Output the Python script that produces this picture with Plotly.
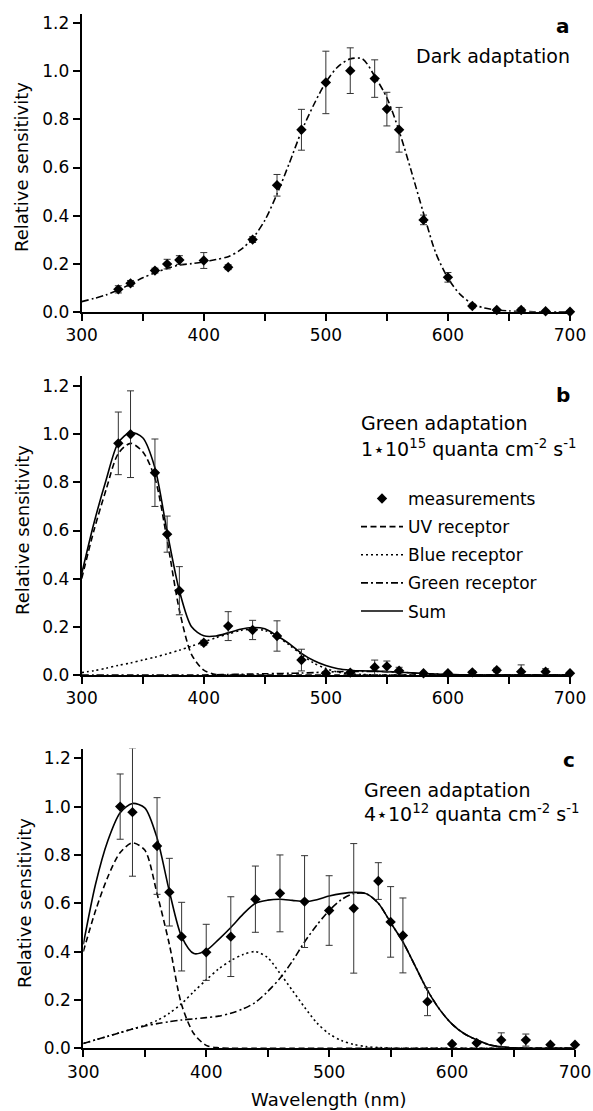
import plotly.graph_objects as go

# ---------------- data ----------------
# wavelength grid for fitted curves (nm)
wl = [300, 310, 320, 330, 340, 350, 360, 370, 380, 390, 400, 410, 420, 430, 440, 450,
      460, 470, 480, 490, 500, 510, 520, 530, 540, 550, 560, 570, 580, 590, 600, 610,
      620, 630, 640, 650, 660, 670, 680, 690, 700]

# panel a: dark adaptation
a_x = [330, 340, 360, 370, 380, 400, 420, 440, 460, 480, 500, 520, 540, 550, 560, 580,
       600, 620, 640, 660, 680, 700]
a_y = [0.093, 0.118, 0.171, 0.198, 0.215, 0.213, 0.185, 0.300, 0.526, 0.757, 0.954,
       1.003, 0.970, 0.843, 0.757, 0.382, 0.143, 0.024, 0.007, 0.007, 0.002, 0.000]
a_err = [0.015, 0.012, 0.010, 0.020, 0.018, 0.033, 0.010, 0.012, 0.045, 0.085, 0.130,
         0.095, 0.078, 0.070, 0.093, 0.020, 0.020, 0.008, 0.005, 0.008, 0.004, 0.003]
a_fit = [0.042, 0.055, 0.070, 0.090, 0.115, 0.141, 0.162, 0.180, 0.194, 0.200, 0.207,
         0.217, 0.229, 0.257, 0.305, 0.380, 0.490, 0.617, 0.750, 0.860, 0.955, 1.020,
         1.052, 1.052, 0.980, 0.890, 0.752, 0.585, 0.410, 0.245, 0.140, 0.072, 0.033,
         0.015, 0.007, 0.003, 0.001, 0.0, 0.0, 0.0, 0.0]

# panel b: green adaptation 1e15
b_x = [330, 340, 360, 370, 380, 400, 420, 440, 460, 480, 500, 520, 540, 550, 560, 580,
       600, 620, 640, 660, 680, 700]
b_y = [0.962, 1.000, 0.840, 0.585, 0.350, 0.134, 0.203, 0.187, 0.162, 0.062, 0.007,
       0.010, 0.032, 0.036, 0.018, 0.007, 0.007, 0.011, 0.020, 0.014, 0.014, 0.007]
b_err = [0.130, 0.180, 0.140, 0.075, 0.100, 0.010, 0.060, 0.040, 0.063, 0.045, 0.004,
         0.004, 0.030, 0.022, 0.014, 0.004, 0.004, 0.006, 0.008, 0.028, 0.012, 0.004]
b_uv = [0.40, 0.60, 0.77, 0.92, 0.962, 0.927, 0.817, 0.56, 0.27, 0.085, 0.02, 0.002,
        0, 0, 0, 0, 0, 0, 0, 0, 0, 0, 0, 0, 0, 0, 0, 0, 0, 0, 0, 0, 0, 0, 0, 0, 0, 0, 0, 0, 0]
b_blue = [0.010, 0.018, 0.028, 0.040, 0.050, 0.062, 0.074, 0.088, 0.103, 0.120, 0.137,
          0.155, 0.170, 0.185, 0.190, 0.185, 0.160, 0.125, 0.085, 0.050, 0.027, 0.012,
          0.005, 0.002, 0, 0, 0, 0, 0, 0, 0, 0, 0, 0, 0, 0, 0, 0, 0, 0, 0]
b_green = [0, 0, 0, 0, 0, 0, 0, 0, 0, 0, 0, 0.001, 0.002, 0.003, 0.004, 0.005, 0.006,
           0.007, 0.008, 0.010, 0.012, 0.014, 0.015, 0.015, 0.015, 0.014, 0.012, 0.009,
           0.006, 0.004, 0.002, 0.001, 0, 0, 0, 0, 0, 0, 0, 0, 0]
b_sum = [0.42, 0.63, 0.81, 0.965, 1.008, 0.985, 0.86, 0.595, 0.35, 0.20, 0.163, 0.162,
         0.175, 0.19, 0.197, 0.192, 0.163, 0.13, 0.09, 0.06, 0.039, 0.026, 0.02, 0.017,
         0.016, 0.014, 0.012, 0.009, 0.006, 0.004, 0.002, 0.001, 0, 0, 0, 0, 0, 0, 0, 0, 0]

# panel c: green adaptation 4e12
c_x = [330, 340, 360, 370, 380, 400, 420, 440, 460, 480, 500, 520, 540, 550, 560, 580,
       600, 620, 640, 660, 680, 700]
c_y = [1.000, 0.977, 0.837, 0.646, 0.462, 0.397, 0.462, 0.617, 0.641, 0.607, 0.570,
       0.579, 0.692, 0.523, 0.467, 0.193, 0.018, 0.022, 0.034, 0.034, 0.015, 0.015]
c_err = [0.135, 0.265, 0.200, 0.140, 0.142, 0.116, 0.165, 0.137, 0.159, 0.190, 0.144,
         0.268, 0.076, 0.146, 0.155, 0.058, 0.004, 0.005, 0.030, 0.025, 0.004, 0.004]
c_uv = [0.40, 0.57, 0.71, 0.81, 0.85, 0.82, 0.64, 0.43, 0.18, 0.06, 0.012, 0.002,
        0, 0, 0, 0, 0, 0, 0, 0, 0, 0, 0, 0, 0, 0, 0, 0, 0, 0, 0, 0, 0, 0, 0, 0, 0, 0, 0, 0, 0]
c_blue = [0.02, 0.035, 0.05, 0.065, 0.08, 0.095, 0.115, 0.145, 0.185, 0.235, 0.283,
          0.328, 0.363, 0.388, 0.400, 0.375, 0.310, 0.240, 0.170, 0.105, 0.060, 0.032,
          0.016, 0.007, 0.003, 0.001, 0, 0, 0, 0, 0, 0, 0, 0, 0, 0, 0, 0, 0, 0, 0]
c_green = [0.02, 0.035, 0.05, 0.065, 0.08, 0.092, 0.102, 0.110, 0.117, 0.122, 0.127,
           0.133, 0.145, 0.163, 0.190, 0.235, 0.290, 0.360, 0.440, 0.510, 0.570, 0.615,
           0.640, 0.640, 0.600, 0.520, 0.440, 0.340, 0.240, 0.160, 0.100, 0.060, 0.035,
           0.015, 0.006, 0.002, 0, 0, 0, 0, 0]
c_sum = [0.43, 0.68, 0.86, 0.975, 1.013, 0.995, 0.87, 0.650, 0.462, 0.392, 0.405, 0.45,
         0.50, 0.555, 0.60, 0.613, 0.617, 0.612, 0.607, 0.615, 0.630, 0.640, 0.645,
         0.640, 0.600, 0.520, 0.440, 0.340, 0.240, 0.160, 0.100, 0.060, 0.035, 0.015,
         0.006, 0.002, 0, 0, 0, 0, 0]

y_ticks = [0.0, 0.2, 0.4, 0.6, 0.8, 1.0, 1.2]

# ---------------- figure ----------------
W, H = 593, 1111
FONT = "DejaVu Sans"


def fx(p):
    return p / W


def fy(p):
    return 1 - p / H


DASH_UV = "6px,3.5px"
DASH_BLUE = "2px,3px"
DASH_GREEN = "7px,3px,2px,3px"

fig = go.Figure()


def curve(x, y, ax, dash, name, show, rank):
    fig.add_trace(go.Scatter(
        x=x, y=y, xaxis=ax[0], yaxis=ax[1], mode="lines",
        line=dict(color="black", width=1.6, dash=dash, shape="spline", smoothing=0.8),
        name=name, showlegend=show, legendgroup=name, legendrank=rank,
        hoverinfo="skip", cliponaxis=False))


def points(x, y, err, ax, show):
    fig.add_trace(go.Scatter(
        x=x, y=y, xaxis=ax[0], yaxis=ax[1], mode="markers",
        marker=dict(symbol="diamond", size=8, color="black"),
        error_y=dict(type="data", array=err, visible=True, color="#333333",
                     thickness=1, width=3.5),
        name="measurements", showlegend=show, legendgroup="measurements",
        legendrank=1, cliponaxis=False))


# panel a
curve(wl, a_fit, ("x", "y"), DASH_GREEN, "Green receptor", False, 4)
points(a_x, a_y, a_err, ("x", "y"), False)

# panel b
curve(wl, b_uv, ("x2", "y2"), DASH_UV, "UV receptor", True, 2)
curve(wl, b_blue, ("x2", "y2"), DASH_BLUE, "Blue receptor", True, 3)
curve(wl, b_green, ("x2", "y2"), DASH_GREEN, "Green receptor", True, 4)
curve(wl, b_sum, ("x2", "y2"), "solid", "Sum", True, 5)
points(b_x, b_y, b_err, ("x2", "y2"), True)

# panel c
curve(wl, c_uv, ("x3", "y3"), DASH_UV, "UV receptor", False, 2)
curve(wl, c_blue, ("x3", "y3"), DASH_BLUE, "Blue receptor", False, 3)
curve(wl, c_green, ("x3", "y3"), DASH_GREEN, "Green receptor", False, 4)
curve(wl, c_sum, ("x3", "y3"), "solid", "Sum", False, 5)
points(c_x, c_y, c_err, ("x3", "y3"), False)

xcommon = dict(range=[300, 700], showline=True, linewidth=2, linecolor="black",
               ticks="outside", ticklen=7, tickwidth=2, tickcolor="black",
               tick0=300, dtick=100, automargin=False,
               minor=dict(ticks="outside", ticklen=7, tickwidth=2, tickcolor="black",
                          tick0=300, dtick=50, showgrid=False),
               showgrid=False, zeroline=False,
               tickfont=dict(family=FONT, size=17, color="black"), fixedrange=True)
ycommon = dict(range=[0, 1.24], showline=True, linewidth=2, linecolor="black",
               ticks="outside", ticklen=7, tickwidth=2, tickcolor="black",
               tickvals=y_ticks, tickformat=".1f", showgrid=False, zeroline=False,
               automargin=False,
               tickfont=dict(family=FONT, size=17, color="black"), fixedrange=True)

fig.update_layout(
    width=W, height=H, margin=dict(l=0, r=0, t=0, b=0, autoexpand=False),
    paper_bgcolor="white", plot_bgcolor="white",
    xaxis=dict(xcommon, domain=[fx(81.7), fx(570)], anchor="y"),
    yaxis=dict(ycommon, domain=[fy(311.7), fy(13.7)], anchor="x"),
    xaxis2=dict(xcommon, domain=[fx(81.7), fx(570)], anchor="y2"),
    yaxis2=dict(ycommon, domain=[fy(675), fy(376.4)], anchor="x2"),
    xaxis3=dict(xcommon, domain=[fx(83.3), fx(575)], anchor="y3"),
    yaxis3=dict(ycommon, domain=[fy(1048.3), fy(748.6)], anchor="x3"),
    showlegend=True,
    legend=dict(x=fx(356), y=fy(481), xanchor="left", yanchor="top",
                font=dict(family=FONT, size=17, color="black"),
                bgcolor="rgba(0,0,0,0)", itemwidth=42, tracegroupgap=3,
                traceorder="grouped"),
)

ann_font = dict(family=FONT, size=19, color="black")
bold_font = dict(family=FONT, size=20, color="black")
title_font = dict(family=FONT, size=18, color="black")
annotations = [
    dict(x=fx(572), y=fy(26), text="<b>a</b>", xanchor="right", yanchor="middle", font=bold_font),
    dict(x=fx(572), y=fy(56), text="Dark adaptation", xanchor="right", yanchor="middle", font=ann_font),
    dict(x=fx(572), y=fy(395), text="<b>b</b>", xanchor="right", yanchor="middle", font=bold_font),
    dict(x=fx(359), y=fy(423), text="Green adaptation", xanchor="left", yanchor="middle", font=ann_font),
    dict(x=fx(359), y=fy(448),
         text="1⋆10<sup>15</sup> quanta cm<sup>-2</sup> s<sup>-1</sup>",
         xanchor="left", yanchor="middle", font=ann_font),
    dict(x=fx(577), y=fy(760), text="<b>c</b>", xanchor="right", yanchor="middle", font=bold_font),
    dict(x=fx(362), y=fy(790), text="Green adaptation", xanchor="left", yanchor="middle", font=ann_font),
    dict(x=fx(362), y=fy(813),
         text="4⋆10<sup>12</sup> quanta cm<sup>-2</sup> s<sup>-1</sup>",
         xanchor="left", yanchor="middle", font=ann_font),
    # axis titles
    dict(x=fx(22), y=fy(167), text="Relative sensitivity", textangle=-90,
         xanchor="center", yanchor="middle", font=title_font),
    dict(x=fx(22), y=fy(530), text="Relative sensitivity", textangle=-90,
         xanchor="center", yanchor="middle", font=title_font),
    dict(x=fx(24), y=fy(903), text="Relative sensitivity", textangle=-90,
         xanchor="center", yanchor="middle", font=title_font),
    dict(x=fx(329), y=fy(1099), text="Wavelength (nm)",
         xanchor="center", yanchor="middle", font=title_font),
]
for a in annotations:
    a.update(xref="paper", yref="paper", showarrow=False)
fig.update_layout(annotations=annotations)

fig.write_html(
    "out.html",
    config={"displayModeBar": False},
    post_script="document.body.style.margin='0px';document.body.style.padding='0px';"
                "document.body.style.overflow='hidden';",
)
